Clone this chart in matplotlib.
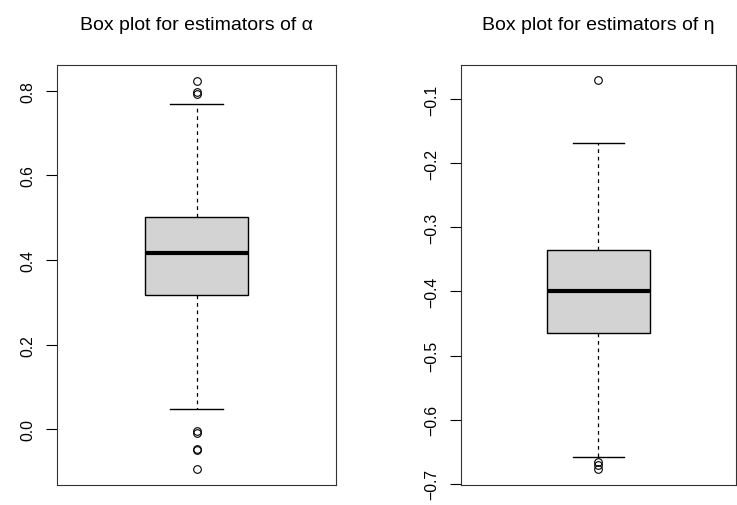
import matplotlib
matplotlib.use("Agg")
import matplotlib.pyplot as plt

plt.rcParams["font.family"] = ["Liberation Sans", "DejaVu Sans"]

# five-number summaries
alpha_q1, alpha_med, alpha_q3 = 0.317, 0.416, 0.502
alpha_whislo, alpha_whishi = 0.048, 0.769
alpha_fliers = [0.824, 0.796, 0.793, -0.005, -0.009, -0.047, -0.049, -0.095]

eta_q1, eta_med, eta_q3 = -0.464, -0.400, -0.335
eta_whislo, eta_whishi = -0.658, -0.168
eta_fliers = [-0.071, -0.665, -0.671, -0.677]

alpha_ticks = [0.0, 0.2, 0.4, 0.6, 0.8]
eta_ticks = [-0.7, -0.6, -0.5, -0.4, -0.3, -0.2, -0.1]

panels = [
    ("Box plot for estimators of α",
     dict(med=alpha_med, q1=alpha_q1, q3=alpha_q3, whislo=alpha_whislo,
          whishi=alpha_whishi, fliers=alpha_fliers),
     alpha_ticks, [0.0773, 0.0395, 0.3787, 0.830]),
    ("Box plot for estimators of η",
     dict(med=eta_med, q1=eta_q1, q3=eta_q3, whislo=eta_whislo,
          whishi=eta_whishi, fliers=eta_fliers),
     eta_ticks, [0.6255, 0.040, 0.3731, 0.830]),
]

fig = plt.figure(figsize=(7.37, 5.06), dpi=100)

for title, st, ticks, rect in panels:
    ax = fig.add_axes(rect)
    ax.bxp([st], positions=[1], widths=0.372, capwidths=0.187,
           patch_artist=True, showfliers=True,
           boxprops=dict(facecolor="#d3d3d3", edgecolor="black", lw=1.0),
           medianprops=dict(color="black", lw=3.0, solid_capstyle="butt"),
           whiskerprops=dict(color="black", lw=0.9, ls=(0, (3, 3))),
           capprops=dict(color="black", lw=1.0),
           flierprops=dict(marker="o", markersize=5.5, markerfacecolor="none",
                           markeredgecolor="black", markeredgewidth=0.8))
    vals = st["fliers"] + [st["whislo"], st["whishi"]]
    lo, hi = min(vals), max(vals)
    pad = 0.04 * (hi - lo)
    ax.set_ylim(lo - pad, hi + pad)
    ax.set_xlim(0.5, 1.5)
    ax.set_xticks([])
    ax.set_yticks(ticks)
    ax.set_yticklabels([f"{t:.1f}".replace("-", "\u2212") for t in ticks],
                       rotation=90, va="center", fontsize=11.3)
    ax.tick_params(axis="y", length=7.7, width=0.8, pad=8)
    for s in ax.spines.values():
        s.set_color("#333333")
        s.set_linewidth(0.8)
    ax.set_title(title, fontsize=14, pad=26)

plt.savefig("out.png", dpi=100)
